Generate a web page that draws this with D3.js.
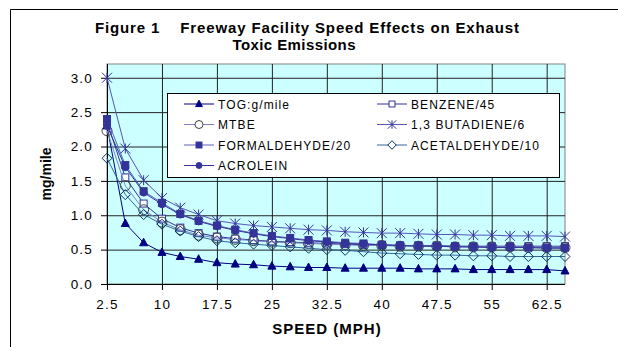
<!DOCTYPE html>
<html>
<head>
<meta charset="utf-8">
<script src="https://cdn.jsdelivr.net/npm/d3@7"></script>
<style>
  body { margin: 0; background: #fff; }
  text { font-family: "Liberation Sans", Arial, sans-serif; }
</style>
</head>
<body>
<svg id="chart"></svg>
<script>
var WIDTH = 618;
var HEIGHT = 347;

// speeds (mph) on the category axis
var speeds = [2.5, 5, 7.5, 10, 12.5, 15, 17.5, 20, 22.5, 25, 27.5, 30, 32.5,
              35, 37.5, 40, 42.5, 45, 47.5, 50, 52.5, 55, 57.5, 60, 62.5, 65];
var speedLabels = [2.5, 10, 17.5, 25, 32.5, 40, 47.5, 55, 62.5];
var yTicks = [0, 0.5, 1, 1.5, 2, 2.5, 3];

var tog = [2.30, 0.88, 0.60, 0.46, 0.40, 0.36, 0.31, 0.29, 0.28, 0.26, 0.25, 0.24, 0.24,
           0.23, 0.23, 0.23, 0.23, 0.22, 0.22, 0.22, 0.21, 0.21, 0.21, 0.21, 0.21, 0.19];
var benzene = [2.36, 1.55, 1.17, 0.95, 0.82, 0.74, 0.69, 0.66, 0.64, 0.62, 0.61, 0.60, 0.59,
               0.58, 0.57, 0.57, 0.56, 0.56, 0.56, 0.55, 0.55, 0.55, 0.55, 0.55, 0.55, 0.55];
var mtbe = [2.23, 1.43, 1.08, 0.90, 0.79, 0.71, 0.67, 0.65, 0.63, 0.61, 0.60, 0.59, 0.58,
            0.57, 0.56, 0.56, 0.55, 0.55, 0.55, 0.54, 0.54, 0.54, 0.54, 0.53, 0.53, 0.53];
var butadiene = [3.00, 1.97, 1.51, 1.25, 1.11, 1.01, 0.92, 0.88, 0.85, 0.83, 0.81, 0.79, 0.78,
                 0.76, 0.75, 0.74, 0.74, 0.73, 0.72, 0.72, 0.71, 0.71, 0.70, 0.70, 0.70, 0.69];
var formaldehyde = [2.40, 1.73, 1.35, 1.18, 1.02, 0.92, 0.85, 0.79, 0.74, 0.70, 0.67, 0.64, 0.62,
                    0.60, 0.59, 0.57, 0.56, 0.56, 0.55, 0.55, 0.54, 0.54, 0.54, 0.53, 0.53, 0.53];
var acetaldehyde = [1.83, 1.30, 1.01, 0.87, 0.77, 0.69, 0.63, 0.60, 0.58, 0.56, 0.54, 0.52, 0.50,
                    0.49, 0.47, 0.45, 0.44, 0.43, 0.42, 0.42, 0.41, 0.41, 0.40, 0.40, 0.40, 0.40];
var acrolein = [2.30, 1.70, 1.33, 1.16, 1.01, 0.91, 0.84, 0.78, 0.73, 0.69, 0.66, 0.63, 0.61,
                0.59, 0.58, 0.57, 0.56, 0.55, 0.55, 0.54, 0.54, 0.53, 0.53, 0.53, 0.52, 0.52];

var series = [
  {name: 'TOG:g/mile', values: tog, line: '#000080', mark: 'triangle', stroke: '#000080', fill: '#000080', col: 0, row: 0},
  {name: 'BENZENE/45', values: benzene, line: '#333399', mark: 'square', stroke: '#333399', fill: '#fff', col: 1, row: 0},
  {name: 'MTBE', values: mtbe, line: '#8080c8', mark: 'circle', stroke: '#404040', fill: 'none', col: 0, row: 1},
  {name: '1,3 BUTADIENE/6', values: butadiene, line: '#5555bb', mark: 'star', stroke: '#333399', fill: 'none', col: 1, row: 1},
  {name: 'FORMALDEHYDE/20', values: formaldehyde, line: '#5f5fc0', mark: 'square', stroke: '#333399', fill: '#333399', col: 0, row: 2},
  {name: 'ACETALDEHYDE/10', values: acetaldehyde, line: '#336699', mark: 'diamond', stroke: '#003366', fill: 'none', col: 1, row: 2},
  {name: 'ACROLEIN', values: acrolein, line: '#333399', mark: 'dot', stroke: '#333399', fill: '#333399', col: 0, row: 3}
];

var plot = {left: 107, right: 565, top: 64, bottom: 284};

var svg = d3.select('#chart')
  .attr('width', WIDTH)
  .attr('height', HEIGHT);

// chart area frame (runs off the right and bottom of the picture)
svg.append('path')
  .attr('d', 'M10.5,' + (HEIGHT + 5) + 'V9.5H' + (WIDTH + 5))
  .attr('fill', 'none')
  .attr('stroke', '#000');

var xScale = d3.scalePoint().domain(speeds).range([plot.left, plot.right]);
var yScale = d3.scaleLinear().domain([0, 3.2]).range([plot.bottom, plot.top]);

svg.append('rect')
  .attr('x', plot.left).attr('y', plot.top)
  .attr('width', plot.right - plot.left).attr('height', plot.bottom - plot.top)
  .attr('fill', '#ccffff')
  .attr('stroke', '#808080');

// gridlines
svg.append('g')
  .attr('class', 'ygrid')
  .attr('transform', 'translate(' + plot.left + ',0)')
  .call(d3.axisLeft(yScale).tickValues(yTicks.slice(1)).tickSize(-(plot.right - plot.left)).tickFormat(''))
  .call(function(g){ g.select('.domain').remove(); })
  .selectAll('line').attr('stroke', '#222');

svg.append('g')
  .attr('class', 'xgrid')
  .attr('transform', 'translate(0,' + plot.bottom + ')')
  .call(d3.axisBottom(xScale).tickValues(speedLabels.slice(1)).tickSize(-(plot.bottom - plot.top)).tickFormat(''))
  .call(function(g){ g.select('.domain').remove(); })
  .selectAll('line').attr('stroke', '#222');

// axes
var leftAxis = d3.axisLeft(yScale).tickValues(yTicks).tickSize(6).tickSizeOuter(0).tickPadding(8)
  .tickFormat(d3.format('.1f'));
var yAxisG = svg.append('g')
  .attr('class', 'yaxis')
  .attr('transform', 'translate(' + plot.left + ',0)')
  .call(leftAxis);
yAxisG.select('.domain').attr('d', 'M0.5,' + plot.top + 'V' + plot.bottom).attr('stroke', '#000');

var botAxis = d3.axisBottom(xScale).tickValues(speedLabels).tickSize(6).tickSizeOuter(0).tickPadding(9)
  .tickFormat(function(d){ return String(d); });
var xAxisG = svg.append('g')
  .attr('class', 'xaxis')
  .attr('transform', 'translate(0,' + plot.bottom + ')')
  .call(botAxis);
xAxisG.select('.domain').attr('d', 'M' + plot.left + ',0.5H' + plot.right).attr('stroke', '#000');

svg.selectAll('.yaxis .tick text, .xaxis .tick text')
  .attr('font-family', '"Liberation Sans", Arial, sans-serif')
  .attr('font-size', 13.5)
  .attr('letter-spacing', 1.2)
  .attr('fill', '#000');
svg.selectAll('.yaxis .tick line, .xaxis .tick line').attr('stroke', '#000');

// markers
function drawMarker(g, type, size) {
  var s = size || 1;
  if (type === 'triangle') {
    g.append('path').attr('d', 'M0,' + (-4.5 * s) + 'L' + (4 * s) + ',' + (3 * s) + 'L' + (-4 * s) + ',' + (3 * s) + 'Z');
  } else if (type === 'square') {
    g.append('rect').attr('x', -3.5 * s).attr('y', -3.5 * s).attr('width', 7 * s).attr('height', 7 * s);
  } else if (type === 'circle') {
    g.append('circle').attr('r', 5 * s);
  } else if (type === 'dot') {
    g.append('circle').attr('r', 3.5 * s);
  } else if (type === 'diamond') {
    g.append('path').attr('d', 'M0,' + (-5 * s) + 'L' + (5 * s) + ',0L0,' + (5 * s) + 'L' + (-5 * s) + ',0Z');
  } else if (type === 'star') {
    var r = 5 * s;
    g.append('path').attr('d',
      'M' + (-r) + ',' + (-r) + 'L' + r + ',' + r +
      'M' + (-r) + ',' + r + 'L' + r + ',' + (-r) +
      'M0,' + (-r) + 'V' + r);
  }
}

var line = d3.line()
  .x(function(d, i){ return xScale(speeds[i]); })
  .y(function(d){ return yScale(d); });

var seriesG = svg.append('g');
series.forEach(function(s){
  var g = seriesG.append('g');
  g.append('path')
    .attr('d', line(s.values))
    .attr('fill', 'none')
    .attr('stroke', s.line)
    .attr('stroke-width', 1);
  g.selectAll('g.mk').data(s.values).enter()
    .append('g')
    .attr('class', 'mk')
    .attr('transform', function(d, i){ return 'translate(' + xScale(speeds[i]) + ',' + yScale(d) + ')'; })
    .each(function(){ drawMarker(d3.select(this), s.mark); })
    .selectAll('*')
    .attr('fill', s.fill === 'none' ? 'none' : s.fill)
    .attr('stroke', s.stroke)
    .attr('stroke-width', 1);
});

// legend
var legend = svg.append('g');
legend.append('rect')
  .attr('x', 167.5).attr('y', 93.5)
  .attr('width', 392).attr('height', 84)
  .attr('fill', '#fff')
  .attr('stroke', '#000');

var colX = [184, 377];
var rowY = [104, 124.5, 145, 165.5];
series.forEach(function(s){
  var x0 = colX[s.col];
  var y0 = rowY[s.row];
  var item = legend.append('g').attr('transform', 'translate(' + x0 + ',' + y0 + ')');
  item.append('line')
    .attr('x1', 0).attr('x2', 30).attr('y1', 0).attr('y2', 0)
    .attr('stroke', s.line);
  var mk = item.append('g').attr('transform', 'translate(15,0)');
  drawMarker(mk, s.mark, s.mark === 'circle' ? 0.8 : 0.85);
  mk.selectAll('*')
    .attr('fill', s.fill === 'none' ? '#fff' : s.fill)
    .attr('stroke', s.stroke);
  if (s.mark === 'star') mk.selectAll('*').attr('fill', 'none');
  item.append('text')
    .attr('x', 34).attr('y', 4.5)
    .attr('font-size', 12)
    .attr('letter-spacing', 1.1)
    .text(s.name);
});

// titles
var title = svg.append('g')
  .attr('font-weight', 'bold')
  .attr('font-size', 15)
  .attr('text-anchor', 'middle');
title.append('text').attr('x', 307).attr('y', 33).attr('xml:space', 'preserve')
  .attr('textLength', 424).attr('lengthAdjust', 'spacing')
  .text('Figure 1    Freeway Facility Speed Effects on Exhaust');
title.append('text').attr('x', 294).attr('y', 50)
  .attr('textLength', 123).attr('lengthAdjust', 'spacing')
  .text('Toxic Emissions');

svg.append('text')
  .attr('transform', 'translate(51,' + ((plot.top + plot.bottom) / 2) + ') rotate(-90)')
  .attr('text-anchor', 'middle')
  .attr('font-weight', 'bold')
  .attr('font-size', 14)
  .text('mg/mile');

svg.append('text')
  .attr('x', 327).attr('y', 334)
  .attr('text-anchor', 'middle')
  .attr('font-weight', 'bold')
  .attr('font-size', 15)
  .attr('letter-spacing', 1)
  .text('SPEED (MPH)');
</script>
</body>
</html>
